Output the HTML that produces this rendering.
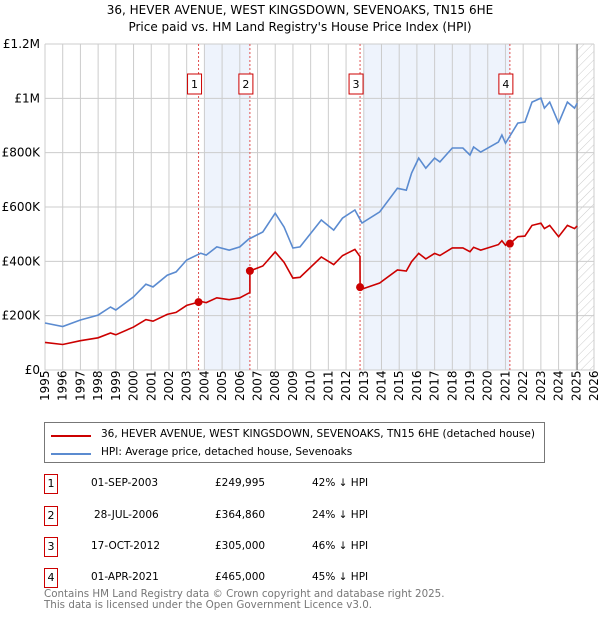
<!DOCTYPE html>
<html><head><meta charset="utf-8"><style>
body{margin:0;background:#fff;font-family:"DejaVu Sans","Liberation Sans",sans-serif;}
#wrap{position:relative;width:600px;height:620px;}
.t{position:absolute;font-size:12px;color:#000;white-space:nowrap}
.num{position:absolute;width:14px;height:20px;border:1px solid #c00;font-size:11px;text-align:center;line-height:18px;box-sizing:border-box}
</style></head><body><div id="wrap">
<div class="t" style="left:0;width:600px;text-align:center;top:3px;font-size:12px">36, HEVER AVENUE, WEST KINGSDOWN, SEVENOAKS, TN15 6HE</div>
<div class="t" style="left:0;width:600px;text-align:center;top:20px;font-size:12px">Price paid vs. HM Land Registry's House Price Index (HPI)</div>
<svg id="chart" width="600" height="420" style="position:absolute;left:0;top:0" font-family="DejaVu Sans, Liberation Sans, sans-serif"></svg>
<div style="position:absolute;left:44px;top:422px;width:501px;height:41px;border:1px solid #777;box-sizing:border-box">
<div><div style="position:absolute;left:6px;top:12px;width:40px;height:2px;background:#c00"></div><div class="t" style="left:56px;top:5px;font-size:10.5px">36, HEVER AVENUE, WEST KINGSDOWN, SEVENOAKS, TN15 6HE (detached house)</div></div>
<div><div style="position:absolute;left:6px;top:30px;width:40px;height:2px;background:#5b8bd0"></div><div class="t" style="left:56px;top:23px;font-size:10.5px">HPI: Average price, detached house, Sevenoaks</div></div>
</div>
<div id="tbl"></div>
<div class="t" style="left:44px;top:589px;color:#777;font-size:10.3px;line-height:11px">Contains HM Land Registry data © Crown copyright and database right 2025.<br>This data is licensed under the Open Government Licence v3.0.</div>
</div>
<script>
const hpiYears=[1995,1996,1997,1998,1998.7,1999,2000,2000.7,2001.1,2001.9,2002.4,2003,2003.8,2004.1,2004.7,2005.4,2006,2006.5,2007.3,2008,2008.5,2009,2009.4,2010.6,2011.3,2011.8,2012.5,2012.9,2013.9,2014.9,2015.4,2015.7,2016.1,2016.5,2017,2017.3,2018,2018.6,2019,2019.2,2019.6,2020.6,2020.8,2021,2021.7,2022.1,2022.5,2023,2023.2,2023.5,2024,2024.5,2024.9,2025.05];
const hpiValues=[173,160,184,202,232,221,269,316,306,349,361,405,430,423,453,441,453,482,508,577,526,449,453,552,515,559,589,541,582,669,662,725,780,743,780,766,817,817,791,821,802,839,865,835,909,913,986,1001,964,986,909,986,964,982];
const saleLabels=["1","2","3","4"];
const saleYears=[2003.67,2006.57,2012.79,2021.25];
const salePrices=[249995,364860,305000,465000];
const saleDates=["01-SEP-2003","28-JUL-2006","17-OCT-2012","01-APR-2021"];
const salePriceText=["£249,995","£364,860","£305,000","£465,000"];
const salePct=["42% ↓ HPI","24% ↓ HPI","46% ↓ HPI","45% ↓ HPI"];
const yTicks=[0,200000,400000,600000,800000,1000000,1200000];
const yTickLabels=["£0","£200K","£400K","£600K","£800K","£1M","£1.2M"];
const xTicks=[1995,1996,1997,1998,1999,2000,2001,2002,2003,2004,2005,2006,2007,2008,2009,2010,2011,2012,2013,2014,2015,2016,2017,2018,2019,2020,2021,2022,2023,2024,2025,2026];

const X0=45,X1=594,Y0=370,Y1=44;
const xs=y=>X0+(y-1995)/(2026-1995)*(X1-X0);
const ys=v=>Y0-v/1200000*(Y0-Y1);
const NS="http://www.w3.org/2000/svg";
const svg=document.getElementById('chart');
function mk(tag,at,parent){const e=document.createElementNS(NS,tag);for(const k in at)e.setAttribute(k,at[k]);(parent||svg).appendChild(e);return e;}
function hpiAt(t){for(let i=0;i<hpiYears.length-1;i++){if(t<=hpiYears[i+1]){const f=(t-hpiYears[i])/(hpiYears[i+1]-hpiYears[i]);return (hpiValues[i]+f*(hpiValues[i+1]-hpiValues[i]))*1000;}}return hpiValues[hpiValues.length-1]*1000;}
const sh1=mk('rect',{x:xs(Math.ceil(saleYears[0])),y:Y1,width:xs(saleYears[1])-xs(Math.ceil(saleYears[0])),height:Y0-Y1,fill:'#eef3fc'});


const sh2=mk('rect',{x:xs(Math.ceil(saleYears[2])),y:Y1,width:xs(saleYears[3])-xs(Math.ceil(saleYears[2])),height:Y0-Y1,fill:'#eef3fc'});


const defs=mk('defs',{});
const pat=mk('pattern',{id:'hatch',width:6,height:6,patternUnits:'userSpaceOnUse',patternTransform:'rotate(45)'},defs);
mk('line',{x1:0,y1:0,x2:0,y2:6,stroke:'#ccc','stroke-width':1},pat);
const hx=xs(2025.05);
const hatch=mk('rect',{x:hx,y:Y1,width:X1-hx,height:Y0-Y1,fill:'url(#hatch)'});


xTicks.forEach((t,i)=>{
 const g=mk('line',{x1:xs(t),x2:xs(t),y1:Y1,y2:Y0,stroke:'#ccc','stroke-width':1});
 
 
 const tx=mk('text',{x:0,y:0,transform:`translate(${xs(t)+4},${Y0+31}) rotate(-90)`,'font-size':12,fill:'#000'});
 tx.textContent=t;
 
 
});
yTicks.forEach((v,i)=>{
 const g=mk('line',{x1:X0,x2:X1,y1:ys(v),y2:ys(v),stroke:'#ccc','stroke-width':1});
 
 
 const tx=mk('text',{x:40,y:ys(v)+4,'text-anchor':'end','font-size':12,fill:'#000'});
 tx.textContent=yTickLabels[i];
 
 
});
const vl=mk('line',{x1:hx,x2:hx,y1:Y1,y2:Y0,stroke:'#888','stroke-width':1.2});


saleYears.forEach((t,i)=>{
 const l=mk('line',{x1:xs(t),x2:xs(t),y1:Y1,y2:Y0,stroke:'#e05050','stroke-width':1,'stroke-dasharray':'2,2'});
 
 
 const g=mk('g',{});
 
 
 mk('rect',{x:xs(t)-11,y:74,width:14,height:20,fill:'#fff',stroke:'#c00'},g);
 const tx=mk('text',{x:xs(t)-4,y:88,'text-anchor':'middle','font-size':11},g);tx.textContent=saleLabels[i];
});
let d='';
hpiYears.forEach((t,i)=>{d+=(i?'L':'M')+xs(t).toFixed(1)+','+ys(hpiValues[i]*1000).toFixed(1);});
const hp=mk('path',{d:d,fill:'none',stroke:'#5b8bd0','stroke-width':1.6});


function ratioAt(t){let k=0;for(let i=0;i<saleYears.length;i++)if(t>=saleYears[i])k=i;return salePrices[k]/hpiAt(saleYears[k]);}
const pts=[];
hpiYears.forEach(t=>pts.push(t));
saleYears.forEach(t=>{pts.push(t-0.001);pts.push(t);});
pts.sort((a,b)=>a-b);
let d2='';
pts.forEach((t,i)=>{d2+=(i?'L':'M')+xs(t).toFixed(1)+','+ys(hpiAt(t)*ratioAt(t)).toFixed(1);});
const rp=mk('path',{d:d2,fill:'none',stroke:'#c00','stroke-width':1.6});


saleYears.forEach((t,i)=>{
 const c=mk('circle',{cx:xs(t),cy:ys(salePrices[i]),r:4,fill:'#c00'});
 
 
});
const tbl=document.getElementById('tbl');
const rowY=[474,506,537,568];
saleLabels.forEach((s,i)=>{
 const r=document.createElement('div');
 
 
 r.innerHTML=`<div class="num" style="left:44px;top:${rowY[i]}px">${s}</div><div class="t" style="left:${i==1?94:91}px;top:${rowY[i]+3}px;font-size:10.5px">${saleDates[i]}</div><div class="t" style="left:215px;top:${rowY[i]+3}px;font-size:10.5px">${salePriceText[i]}</div><div class="t" style="left:312px;top:${rowY[i]+3}px;font-size:10.5px">${salePct[i]}</div>`;
 tbl.appendChild(r);
});
</script></body></html>
